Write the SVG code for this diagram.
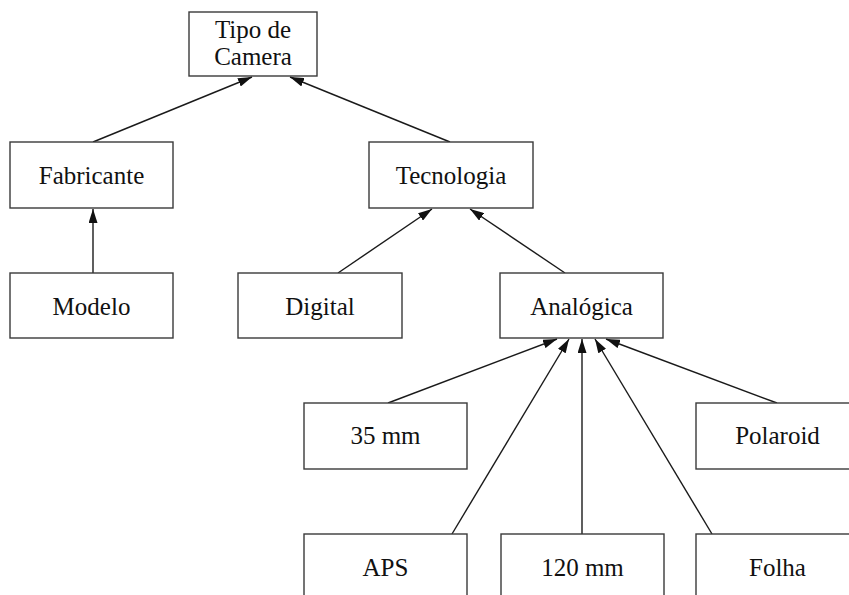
<svg xmlns="http://www.w3.org/2000/svg" width="849" height="595" viewBox="0 0 849 595">
  <style>
    .box { fill: #ffffff; stroke: #3a3a3a; stroke-width: 1.4; }
    .lbl { font-family: "Liberation Serif", "DejaVu Serif", serif; font-size: 25px; fill: #111111; text-anchor: middle; }
    .edge { stroke: #1a1a1a; stroke-width: 1.4; fill: none; marker-end: url(#arrow); }
  </style>
  <defs>
    <marker id="arrow" viewBox="0 0 14 9" refX="14" refY="4.5" markerWidth="14" markerHeight="9" markerUnits="userSpaceOnUse" orient="auto">
      <path d="M0,0 L14,4.5 L0,9 Z" fill="#111111"/>
    </marker>
  </defs>
  <rect width="849" height="595" fill="#ffffff"/>

  <g id="connectors">
    <line class="edge" x1="93" y1="142" x2="252" y2="77"/>
    <line class="edge" x1="450" y1="142" x2="290" y2="77"/>
    <line class="edge" x1="93" y1="273" x2="93" y2="209"/>
    <line class="edge" x1="338" y1="273" x2="432" y2="209"/>
    <line class="edge" x1="565" y1="273" x2="470" y2="209"/>
    <line class="edge" x1="388" y1="403" x2="557" y2="339"/>
    <line class="edge" x1="452" y1="534" x2="569" y2="339"/>
    <line class="edge" x1="582" y1="534" x2="582" y2="339"/>
    <line class="edge" x1="712" y1="534" x2="595" y2="339"/>
    <line class="edge" x1="777" y1="403" x2="606" y2="339"/>
  </g>

  <g id="tipo-de-camera">
    <rect class="box" x="189" y="12" width="128" height="64"/>
    <text class="lbl" x="253" y="38">Tipo de</text>
    <text class="lbl" x="253" y="65">Camera</text>
  </g>
  <g id="fabricante">
    <rect class="box" x="10" y="142" width="163" height="66"/>
    <text class="lbl" x="91.5" y="184">Fabricante</text>
  </g>
  <g id="tecnologia">
    <rect class="box" x="369" y="142" width="164" height="66"/>
    <text class="lbl" x="451" y="184">Tecnologia</text>
  </g>
  <g id="modelo">
    <rect class="box" x="10" y="273" width="163" height="65"/>
    <text class="lbl" x="91.5" y="315">Modelo</text>
  </g>
  <g id="digital">
    <rect class="box" x="238" y="273" width="164" height="65"/>
    <text class="lbl" x="320" y="315">Digital</text>
  </g>
  <g id="analogica">
    <rect class="box" x="500" y="273" width="163" height="65"/>
    <text class="lbl" x="581.5" y="315">Analógica</text>
  </g>
  <g id="mm35">
    <rect class="box" x="304" y="403" width="163" height="66"/>
    <text class="lbl" x="385.5" y="444">35 mm</text>
  </g>
  <g id="polaroid">
    <rect class="box" x="696" y="403" width="163" height="66"/>
    <text class="lbl" x="777.5" y="444">Polaroid</text>
  </g>
  <g id="aps">
    <rect class="box" x="304" y="534" width="163" height="80"/>
    <text class="lbl" x="385.5" y="576">APS</text>
  </g>
  <g id="mm120">
    <rect class="box" x="501" y="534" width="163" height="80"/>
    <text class="lbl" x="582.5" y="576">120 mm</text>
  </g>
  <g id="folha">
    <rect class="box" x="696" y="534" width="163" height="80"/>
    <text class="lbl" x="777.5" y="576">Folha</text>
  </g>
</svg>
